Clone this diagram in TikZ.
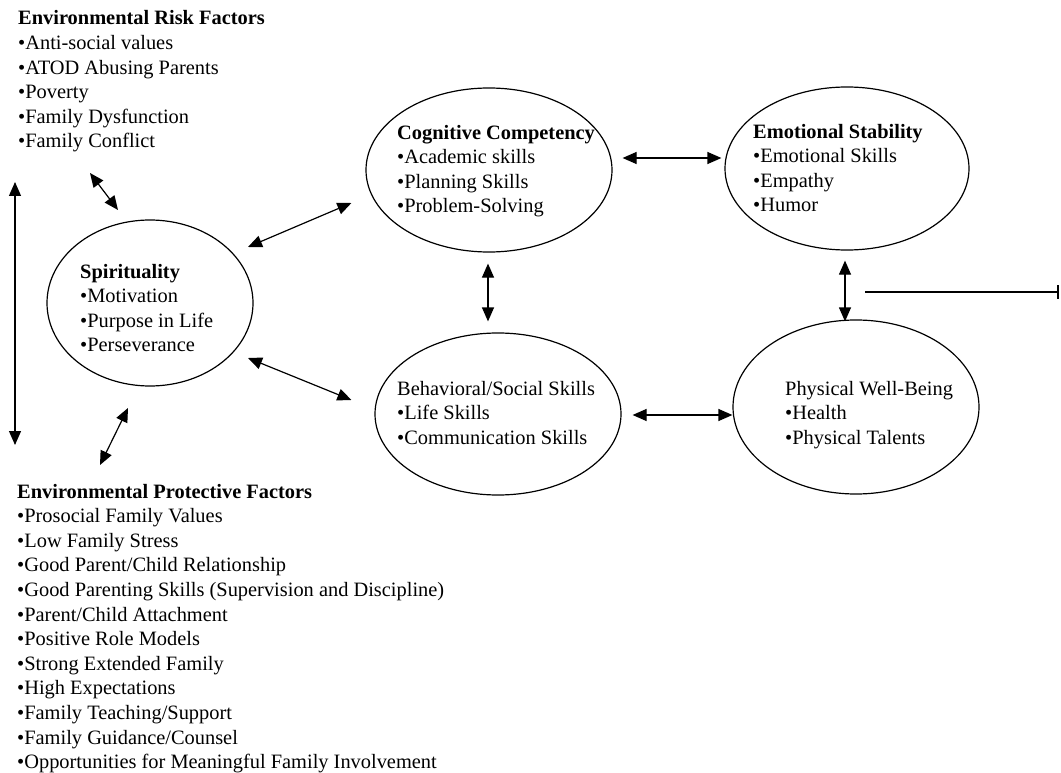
\documentclass[tikz,border=0pt]{standalone}
\usepackage{fontspec}
\setmainfont{Liberation Serif}
\usetikzlibrary{shapes.geometric,arrows.meta,calc}
\begin{document}
\begin{tikzpicture}[x=1pt,y=-1pt,
  oval/.style={ellipse,draw,line width=1.2pt,inner sep=0pt},
  txt/.style={anchor=base west,align=left,inner sep=0pt,font=\fontsize{20.4}{24.6}\selectfont},
  dbl/.style={{Triangle[length=14pt,width=12pt]}-{Triangle[length=14pt,width=12pt]},line width=1.2pt},
  bar/.style={-{Bar[width=14pt,line width=1.8pt]},line width=1.2pt}]
\useasboundingbox (0,0) rectangle (1061,773);
% ellipses
\node[oval,minimum width=206pt,minimum height=166pt] (spi) at (150,303) {};
\node[oval,minimum width=246pt,minimum height=164pt] (cog) at (489,170) {};
\node[oval,minimum width=244pt,minimum height=163pt] (emo) at (847,168.5) {};
\node[oval,minimum width=246pt,minimum height=162pt] (beh) at (498,414) {};
\node[oval,minimum width=246pt,minimum height=174pt] (phy) at (856,407) {};
% texts (anchor = baseline of last line)
\node[txt] (risk) at (18,148) {\textbf{Environmental Risk Factors}\\•Anti-social values\\•ATOD Abusing Parents\\•Poverty\\•Family Dysfunction\\•Family Conflict};
\node[txt] (prot) at (17,768.6) {\textbf{Environmental Protective Factors}\\•Prosocial Family Values\\•Low Family Stress\\•Good Parent/Child Relationship\\•Good Parenting Skills (Supervision and Discipline)\\•Parent/Child Attachment\\•Positive Role Models\\•Strong Extended Family\\•High Expectations\\•Family Teaching/Support\\•Family Guidance/Counsel\\•Opportunities for Meaningful Family Involvement};
\node[txt] (spit) at (80,351.8) {\textbf{Spirituality}\\•Motivation\\•Purpose in Life\\•Perseverance};
\node[txt] (cogt) at (397,212.8) {\textbf{Cognitive Competency}\\•Academic skills\\•Planning Skills\\•Problem-Solving};
\node[txt] (emot) at (753,211.8) {\textbf{Emotional Stability}\\•Emotional Skills\\•Empathy\\•Humor};
\node[txt] (beht) at (397,444.2) {Behavioral/Social Skills\\•Life Skills\\•Communication Skills};
\node[txt] (phyt) at (785,444.2) {Physical Well-Being\\•Health\\•Physical Talents};
% connectors
\draw[dbl] ($(cog.east)+(10,-12)$) -- ($(emo.west)+(-3,-10.5)$);
\draw[dbl] ($(beh.east)+(11,1)$) -- ($(phy.west)+(0,8)$);
\draw[dbl] ($(cog.south)+(-1,11)$) -- ($(beh.north)+(-10,-11)$);
\draw[dbl] ($(emo.south)+(-2,10)$) -- ($(phy.north)+(-11,2)$);
\draw[dbl] ($(spi.center)+(98,-56)$) -- ($(cog.west)+(-14,33)$);
\draw[dbl] ($(spi.center)+(98,55)$) -- ($(beh.west)+(-23,-14)$);
\draw[dbl] ($(risk.base west)+(72,25)$) -- ($(spi.center)+(-32,-93)$);
\draw[dbl] ($(spi.center)+(-22,105)$) -- ($(prot.base west)+(83,-303.6)$);
\draw[dbl] ($(risk.base west)+(-3,34)$) -- ($(prot.base west)+(-2,-323.6)$);
\coordinate (outS) at (865,292);
\coordinate (outE) at (1059,292);
\draw[bar] (outS) -- (outE);
\end{tikzpicture}
\end{document}
